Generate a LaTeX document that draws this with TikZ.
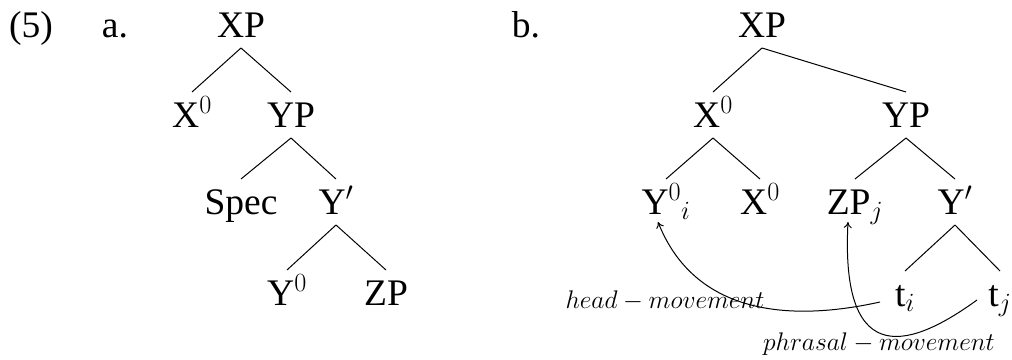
\RequirePackage{fix-cm}
\documentclass[tikz,border=0pt]{standalone}
\usepackage{fontspec}
\setmainfont{Liberation Serif}
\newfontfamily\timesfont{Liberation Serif}
\usetikzlibrary{arrows.meta}
\begin{document}
\begin{tikzpicture}[x=1pt,y=-1pt,
  lbl/.style={anchor=base,inner sep=0pt,font=\timesfont\fontsize{37.5}{45}\selectfont},
  mv/.style={anchor=base,inner sep=0pt,font=\fontsize{25.5}{30}\selectfont},
  edge/.style={line width=1pt},
  movearrow/.style={line width=1pt,-{To[length=6pt,width=8pt]}}]
\useasboundingbox (0,0) rectangle (1012,359);
% labels
\node[lbl] (ex) at (31,37) {(5)};
\node[lbl] (la) at (115,37) {a.};
\node[lbl] (lb) at (526,37) {b.};
% tree a
\node[lbl] (aXP) at (241,37) {XP};
\node[lbl] (aX0) at (192,127) {X$^0$};
\node[lbl] (aYP) at (291,127) {YP};
\node[lbl] (aSpec) at (241,214) {Spec};
\node[lbl] (aYb) at (336,214) {Y$'$};
\node[lbl] (aY0) at (287,305) {Y$^0$};
\node[lbl] (aZP) at (386,305) {ZP};
\foreach \p/\c in {aXP/aX0,aXP/aYP,aYP/aSpec,aYP/aYb,aYb/aY0,aYb/aZP}
  \draw[edge] ([yshift=-11pt]\p.base) -- ([yshift=35pt]\c.base);
% tree b
\node[lbl] (bXP) at (762,37) {XP};
\node[lbl] (bX0) at (713,127) {X$^0$};
\node[lbl] (bYP) at (906,127) {YP};
\node[lbl] (bY0) at (666,214) {Y$^0{}_i$};
\node[lbl] (bX0b) at (760,214) {X$^0$};
\node[lbl] (bZP) at (855,214) {ZP$_j$};
\node[lbl] (bYb) at (955,214) {Y$'$};
\node[lbl] (bti) at (905,306) {t$_i$};
\node[lbl] (btj) at (1000,306) {t$_j$};
\foreach \p/\c in {bXP/bX0,bXP/bYP,bX0/bY0,bX0/bX0b,bYP/bZP,bYP/bYb,bYb/bti,bYb/btj}
  \draw[edge] ([yshift=-11pt]\p.base) -- ([yshift=35pt]\c.base);
% movement labels
\node[mv] (hm) at (665,308) {$head-movement$};
\node[mv] (pm) at (879,350) {$phrasal-movement$};
% movement arrows
\draw[movearrow] ([xshift=-25pt,yshift=4pt]bti.base) .. controls (790,322) and (695,315) .. ([xshift=-8pt,yshift=-8pt]bY0.base);
\draw[movearrow] ([xshift=-23pt,yshift=6pt]btj.base) .. controls (915,345) and (840,375) .. ([xshift=-7pt,yshift=-8pt]bZP.base);
\end{tikzpicture}
\end{document}
